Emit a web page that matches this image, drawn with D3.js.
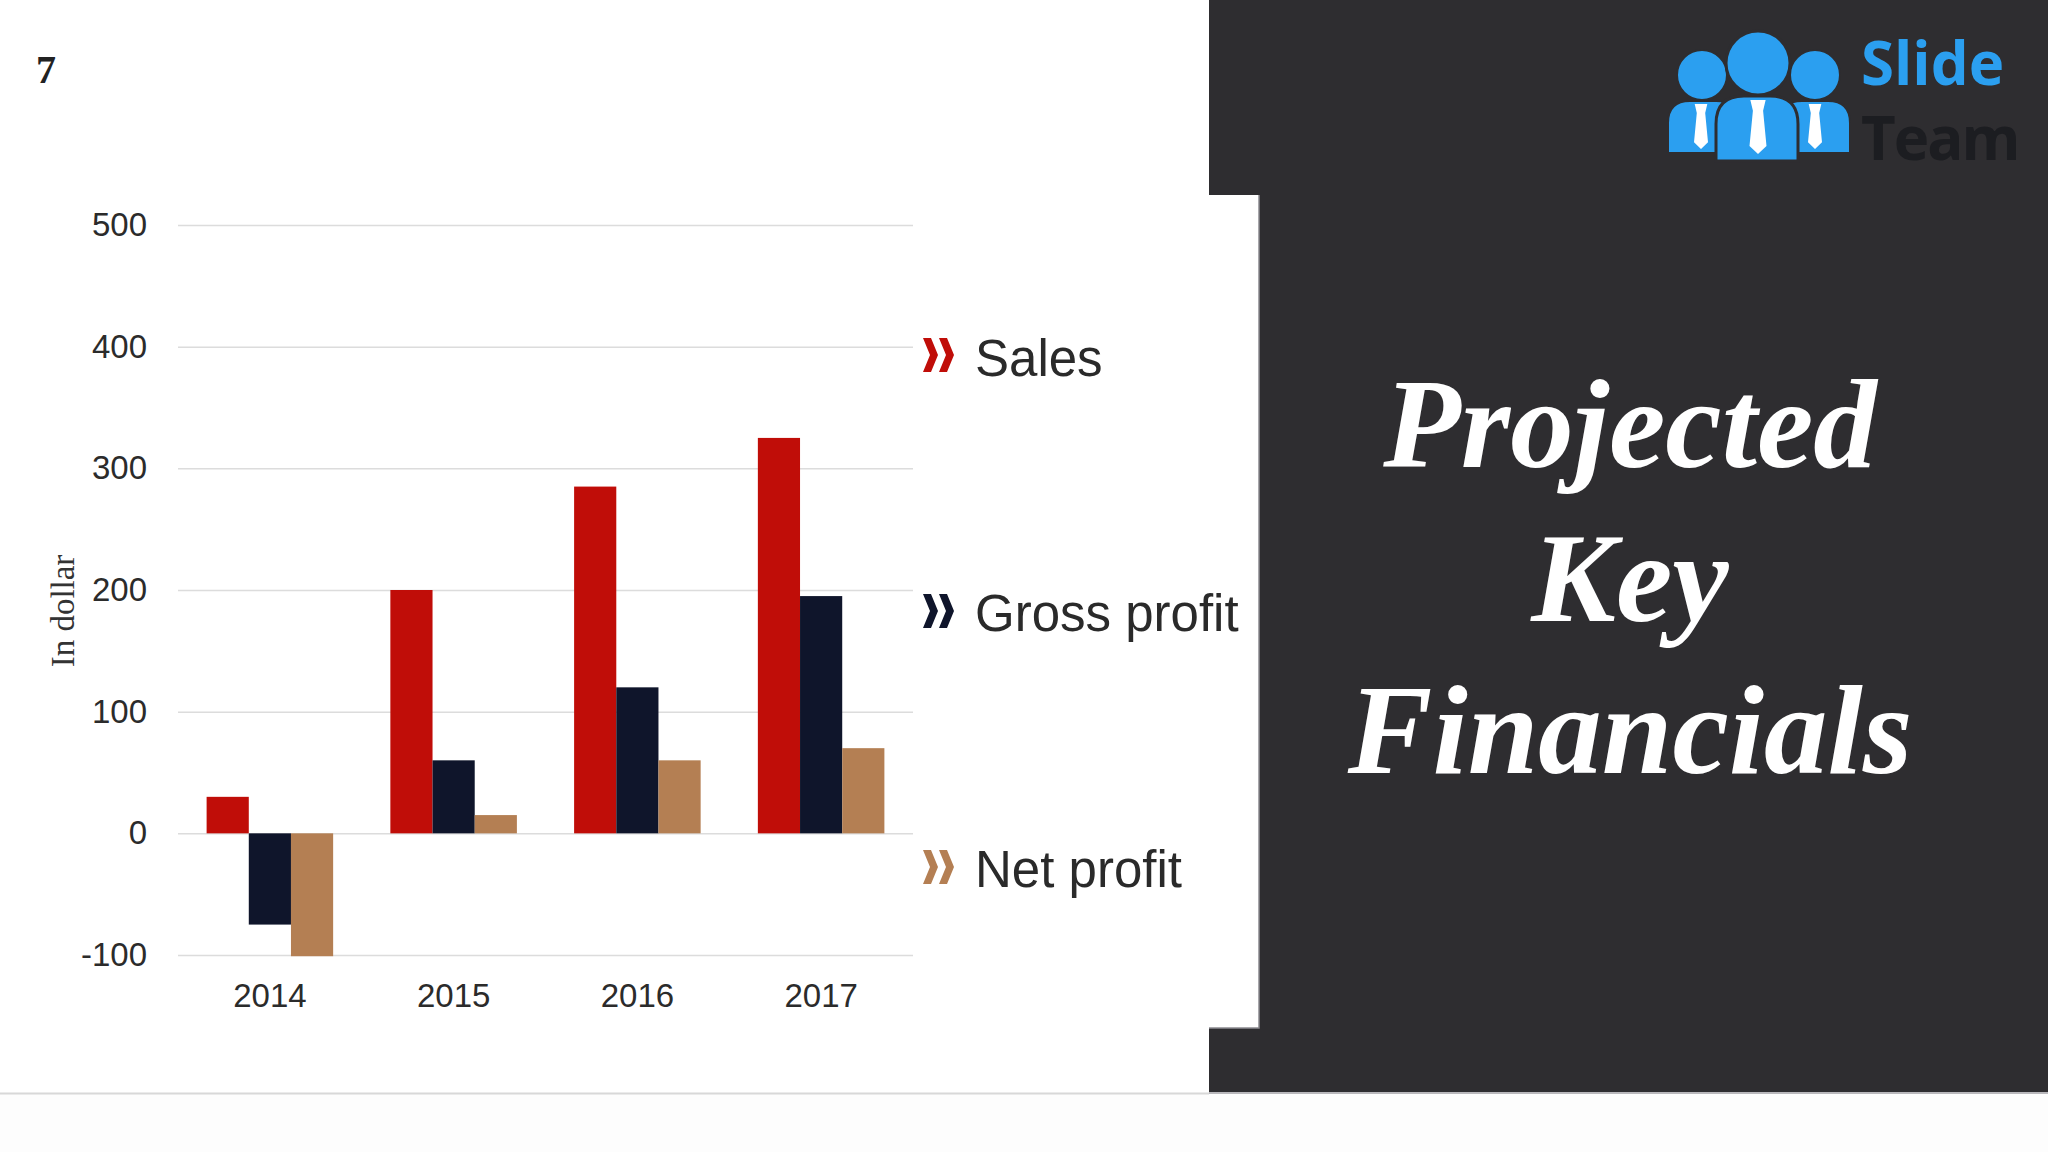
<!DOCTYPE html>
<html>
<head>
<meta charset="utf-8">
<script src="https://cdn.jsdelivr.net/npm/d3@7"></script>
<style>
  html, body { margin: 0; padding: 0; background: #ffffff; }
  svg { display: block; }
</style>
</head>
<body>
<svg id="chart" width="2048" height="1152"></svg>
<script>
// ---- Data ----
const years = ["2014", "2015", "2016", "2017"];
const seriesNames = ["Sales", "Gross profit", "Net profit"];
const sales = [30, 200, 285, 325];
const grossProfit = [-75, 60, 120, 195];
const netProfit = [-101, 15, 60, 70];
const yTicks = [-100, 0, 100, 200, 300, 400, 500];
const seriesColors = ["#c00d08", "#0f152b", "#b47f53"];
const titleLines = ["Projected", "Key", "Financials"];

const seriesValues = [sales, grossProfit, netProfit];

const svg = d3.select("#chart");

// ---- Background panels ----
svg.append("rect").attr("x", 0).attr("y", 0).attr("width", 2048).attr("height", 1152).attr("fill", "#ffffff");
svg.append("rect").attr("x", 0).attr("y", 1093).attr("width", 2048).attr("height", 59).attr("fill", "#fdfdfd");
svg.append("line").attr("x1", 0).attr("x2", 1209).attr("y1", 1093.5).attr("y2", 1093.5)
  .attr("stroke", "#d8d8d8").attr("stroke-width", 2);
svg.append("rect").attr("x", 1209).attr("y", 0).attr("width", 839).attr("height", 1093).attr("fill", "#2e2d30");
svg.append("rect").attr("x", 1209).attr("y", 1092).attr("width", 839).attr("height", 2).attr("fill", "#b9b8bc");
svg.append("rect").attr("x", 1208).attr("y", 195).attr("width", 51).attr("height", 833)
  .attr("fill", "#ffffff");
svg.append("path").attr("d", "M1259,195 V1028 H1209").attr("fill", "none").attr("stroke", "#8c8b90").attr("stroke-width", 1.5);

// ---- Page number ----
svg.append("text").attr("x", 36).attr("y", 83).text("7")
  .attr("font-family", "'Liberation Serif', 'Times New Roman', serif")
  .attr("font-weight", "bold").attr("font-size", 40).attr("fill", "#222222");

// ---- Scales ----
const plotLeft = 178, plotRight = 913;
const y = d3.scaleLinear().domain([-100, 500]).range([955, 225]);
const x0 = d3.scaleBand().domain(years).range([plotLeft, plotRight]).paddingInner(0).paddingOuter(0);
const gap = x0.bandwidth() * 0.1557;
const x1 = d3.scaleBand().domain(seriesNames).range([gap, x0.bandwidth() - gap]).padding(0);

// ---- Gridlines + y axis ----
const yAxis = d3.axisLeft(y).tickValues(yTicks).tickSize(-(plotRight - plotLeft)).tickPadding(31)
  .tickFormat(d => String(d));
const gy = svg.append("g").attr("transform", `translate(${plotLeft},0)`).call(yAxis);
gy.select(".domain").remove();
gy.selectAll(".tick line").attr("stroke", "#dcdcdc").attr("stroke-width", 1.5);
gy.selectAll(".tick text")
  .attr("font-family", "'Liberation Sans', Arial, sans-serif")
  .attr("font-size", 33).attr("fill", "#2b2b2b");

// ---- X axis labels ----
const xAxis = d3.axisBottom(x0).tickSize(0).tickPadding(29);
const gx = svg.append("g").attr("transform", `translate(0,${y(-100)})`).call(xAxis);
gx.select(".domain").remove();
gx.selectAll(".tick text")
  .attr("font-family", "'Liberation Sans', Arial, sans-serif")
  .attr("font-size", 33).attr("fill", "#2b2b2b");

// ---- Bars ----
const groups = svg.append("g").selectAll("g").data(years).join("g")
  .attr("transform", d => `translate(${x0(d)},0)`);
groups.selectAll("rect")
  .data((d, i) => seriesNames.map((s, k) => ({ s, k, v: seriesValues[k][i] })))
  .join("rect")
  .attr("x", d => x1(d.s))
  .attr("width", x1.bandwidth())
  .attr("y", d => y(Math.max(0, d.v)))
  .attr("height", d => Math.abs(y(d.v) - y(0)))
  .attr("fill", d => seriesColors[d.k]);

// ---- Y axis title ----
svg.append("text")
  .attr("transform", "translate(74,611) rotate(-90)")
  .attr("text-anchor", "middle")
  .attr("font-family", "'Liberation Serif', 'Times New Roman', serif")
  .attr("font-size", 33).attr("fill", "#333333")
  .text("In dollar");

// ---- Legend ----
const legendTop = [338, 594, 850];
const legendBase = [376, 631, 887];
function chevron(x, yy, w, h, t) {
  return `M${x},${yy} L${x + t},${yy} L${x + w},${yy + h / 2} L${x + t},${yy + h} L${x},${yy + h} L${x + w - t},${yy + h / 2} Z`;
}
const legend = svg.append("g").selectAll("g").data(seriesNames).join("g");
legend.append("path")
  .attr("d", (d, i) => chevron(923, legendTop[i], 15, 34, 8) + " " + chevron(939, legendTop[i], 15, 34, 8))
  .attr("fill", (d, i) => seriesColors[i]);
legend.append("text")
  .attr("x", 975).attr("y", (d, i) => legendBase[i])
  .attr("font-family", "'Liberation Sans', Arial, sans-serif")
  .attr("font-size", 51).attr("fill", "#2a2a2a")
  .text(d => d);

// ---- Title ----
const titleBase = [467, 621, 773];
svg.append("g").selectAll("text").data(titleLines).join("text")
  .attr("x", 1630).attr("y", (d, i) => titleBase[i])
  .attr("text-anchor", "middle")
  .attr("font-family", "'Liberation Serif', 'Times New Roman', serif")
  .attr("font-style", "italic").attr("font-weight", "bold")
  .attr("font-size", 127).attr("fill", "#ffffff")
  .text(d => d);

// ---- Logo ----
const logo = svg.append("g");
const blue = "#2b9ff0", bg = "#2e2d30";
function body(x1b, x2b, top, bottom, r) {
  return `M${x1b},${bottom} L${x1b},${top + r} Q${x1b},${top} ${x1b + r},${top} L${x2b - r},${top} Q${x2b},${top} ${x2b},${top + r} L${x2b},${bottom} Z`;
}
function tie(cx, top, len, w) {
  return `M${cx - w * 0.45},${top} L${cx + w * 0.45},${top} L${cx + w * 0.3},${top + len * 0.2} L${cx + w * 0.5},${top + len * 0.85} L${cx},${top + len} L${cx - w * 0.5},${top + len * 0.85} L${cx - w * 0.3},${top + len * 0.2} Z`;
}
logo.append("path").attr("d", body(1668, 1738, 101, 153, 22)).attr("fill", blue).attr("stroke", bg).attr("stroke-width", 2);
logo.append("path").attr("d", body(1780, 1850, 101, 153, 22)).attr("fill", blue).attr("stroke", bg).attr("stroke-width", 2);
logo.append("circle").attr("cx", 1702).attr("cy", 75).attr("r", 25).attr("fill", blue).attr("stroke", bg).attr("stroke-width", 2);
logo.append("circle").attr("cx", 1815).attr("cy", 75).attr("r", 25).attr("fill", blue).attr("stroke", bg).attr("stroke-width", 2);
logo.append("path").attr("d", tie(1701, 104, 45, 14)).attr("fill", "#ffffff");
logo.append("path").attr("d", tie(1815, 104, 45, 14)).attr("fill", "#ffffff");
logo.append("path").attr("d", body(1716, 1798, 96, 161, 28)).attr("fill", blue).attr("stroke", bg).attr("stroke-width", 3);
logo.append("circle").attr("cx", 1758).attr("cy", 63).attr("r", 32).attr("fill", blue).attr("stroke", bg).attr("stroke-width", 3);
logo.append("path").attr("d", tie(1758, 100, 54, 17)).attr("fill", "#ffffff");
logo.append("text").attr("x", 1861).attr("y", 85).text("Slide")
  .attr("font-family", "'Open Sans', 'DejaVu Sans', sans-serif").attr("font-weight", "bold")
  .attr("font-size", 60).attr("fill", blue);
logo.append("text").attr("x", 1861).attr("y", 160).text("Team")
  .attr("font-family", "'Open Sans', 'DejaVu Sans', sans-serif").attr("font-weight", "bold")
  .attr("font-size", 60).attr("letter-spacing", -2).attr("fill", "#1c1d21");
</script>
</body>
</html>
